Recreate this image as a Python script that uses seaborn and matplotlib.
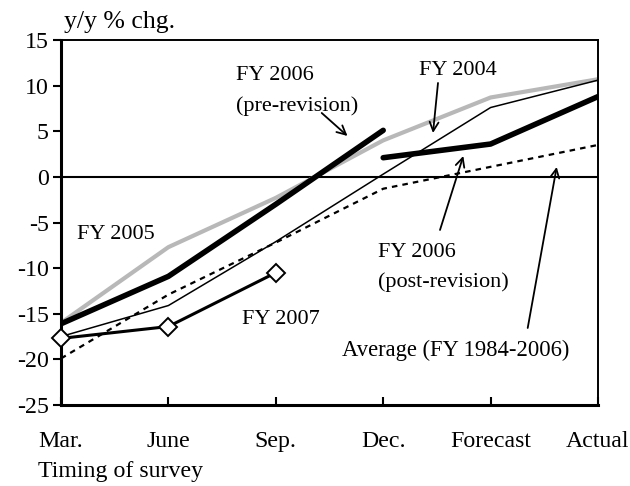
import numpy as np
import pandas as pd
import matplotlib
matplotlib.use("Agg")
import matplotlib.pyplot as plt
import seaborn as sns

# ---- data ----
categories = ["Mar.", "June", "Sep.", "Dec.", "Forecast", "Actual"]
fy2005 = [-16.0, -7.7, -2.3, 4.0, 8.7, 10.7]
fy2006_pre = [-16.1, -10.9, -3.0, 5.1, np.nan, np.nan]
fy2006_post = [np.nan, np.nan, np.nan, 2.1, 3.6, 8.8]
fy2004 = [-17.5, -14.1, -7.1, 0.3, 7.6, 10.6]
average = [-19.9, -12.9, -7.2, -1.3, 1.1, 3.5]
fy2007 = [-17.7, -16.4, -10.5, np.nan, np.nan, np.nan]
y_ticks = [-25, -20, -15, -10, -5, 0, 5, 10, 15]

sns.set_theme(style="white")
plt.rcParams["font.family"] = ["Liberation Serif", "DejaVu Serif"]

pos = np.arange(len(categories))
df = pd.DataFrame({
    "pos": pos,
    "fy2005": fy2005,
    "fy2006_pre": fy2006_pre,
    "fy2006_post": fy2006_post,
    "fy2004": fy2004,
    "average": average,
    "fy2007": fy2007,
})

fig = plt.figure(figsize=(6.3, 4.86), dpi=100)
ax = fig.add_axes([61 / 630, 1 - 405 / 486, (598 - 61) / 630, (405 - 40) / 486])

ax.axhline(0, color="black", lw=1.5, zorder=1)

sns.lineplot(data=df, x="pos", y="fy2005", ax=ax, color="#b8b8b8", lw=3.0, zorder=2)
sns.lineplot(data=df, x="pos", y="average", ax=ax, color="black", lw=1.6,
             linestyle=(0, (2.5, 2.3)), zorder=3)
sns.lineplot(data=df, x="pos", y="fy2004", ax=ax, color="black", lw=1.1, zorder=3)
sns.lineplot(data=df, x="pos", y="fy2006_pre", ax=ax, color="black", lw=4.0,
             solid_capstyle="round", zorder=4)
sns.lineplot(data=df, x="pos", y="fy2006_post", ax=ax, color="black", lw=4.0,
             solid_capstyle="round", zorder=4)
sns.lineplot(data=df, x="pos", y="fy2007", ax=ax, color="black", lw=2.2,
             marker="D", markersize=9, markerfacecolor="white",
             markeredgecolor="black", markeredgewidth=1.4, zorder=5, clip_on=False)

ax.set_xlim(0, 5)
ax.set_ylim(-25, 15)
ax.set_yticks(y_ticks)
ax.set_yticklabels([str(v) for v in y_ticks])
ax.set_xticks(pos)
ax.set_xticklabels(categories)
ax.set_xlabel("")
ax.set_ylabel("")

for side in ["left", "bottom"]:
    ax.spines[side].set_linewidth(2.2)
for side in ["top", "right"]:
    ax.spines[side].set_linewidth(1.4)
for s in ax.spines.values():
    s.set_color("black")

ax.tick_params(axis="y", direction="out", length=6, width=1.5, labelsize=17.2,
               pad=3, left=True, colors="black")
ax.tick_params(axis="x", direction="in", length=6, width=1.5, labelsize=17.2,
               pad=19, bottom=True, colors="black")

# pixel -> data helpers
def dx(px):
    return (px - 61) / ((598 - 61) / 5)

def dy(py):
    return (176.9 - py) / (365 / 40)

txt = dict(color="black", fontsize=16, va="center")
ptxt = dict(color="black", fontsize=16, va="center")
ax.text(dx(236), dy(76), "FY 2006", ha="left", **txt)
ax.text(dx(236), dy(106), "(pre-revision)", ha="left", **ptxt)
ax.text(dx(419), dy(71), "FY 2004", ha="left", **txt)
ax.text(dx(77), dy(235), "FY 2005", ha="left", **txt)
ax.text(dx(242), dy(320), "FY 2007", ha="left", **txt)
ax.text(dx(378), dy(253), "FY 2006", ha="left", **txt)
ax.text(dx(378), dy(282), "(post-revision)", ha="left", **ptxt)
ax.text(dx(342), dy(350), "Average (FY 1984-2006)", ha="left", color="black", fontsize=16.3, va="center")

arrow = dict(arrowstyle="->", color="black", lw=1.3, mutation_scale=16, shrinkA=0, shrinkB=0)
ax.annotate("", xy=(dx(347.5), dy(136)), xytext=(dx(321.7), dy(113)), arrowprops=arrow)
ax.annotate("", xy=(dx(433), dy(133)), xytext=(dx(438), dy(83)), arrowprops=arrow)
ax.annotate("", xy=(dx(463.3), dy(156)), xytext=(dx(440), dy(230)), arrowprops=arrow)
ax.annotate("", xy=(dx(556.7), dy(167)), xytext=(dx(527.7), dy(328)), arrowprops=arrow)

fig.text(64 / 630, 1 - 22 / 486, "y/y % chg.", ha="left", va="center", fontsize=18.5, color="black")
fig.text(38 / 630, 1 - 471 / 486, "Timing of survey", ha="left", va="center", fontsize=17.2, color="black")

fig.savefig("out.png", dpi=100)
